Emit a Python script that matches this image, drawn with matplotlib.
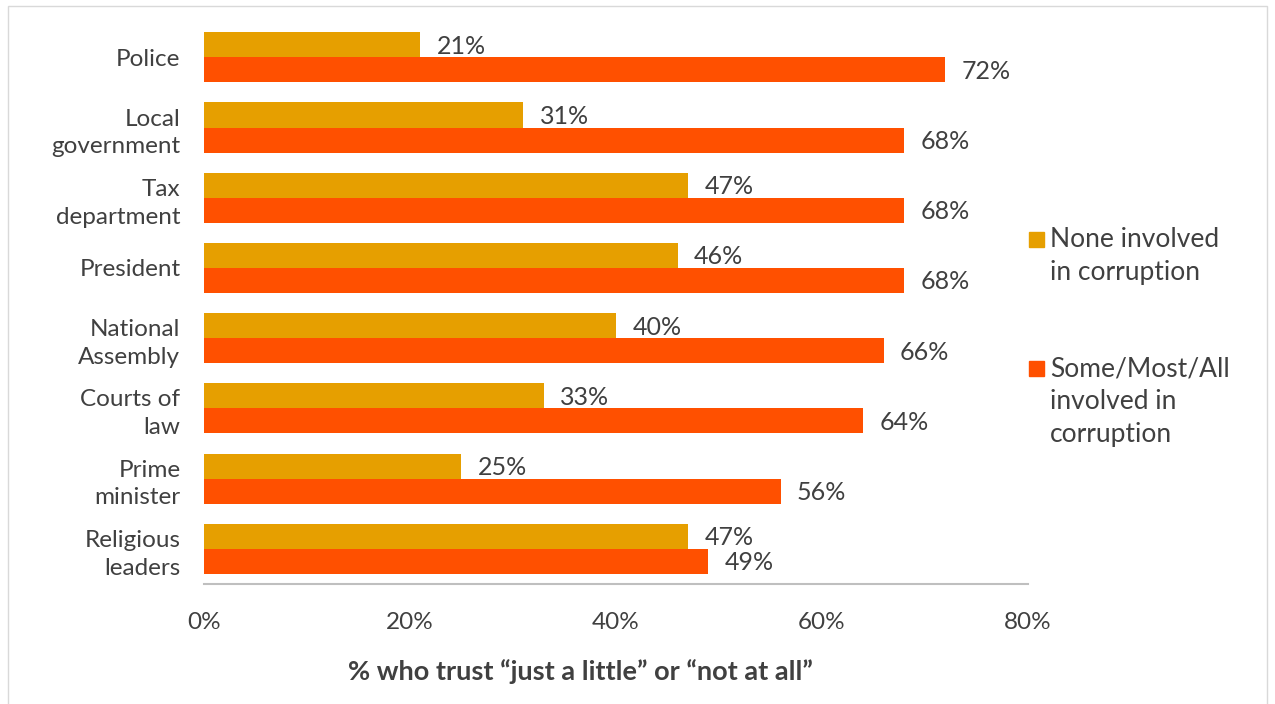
import matplotlib.pyplot as plt
from matplotlib.patches import Rectangle
import numpy as np

# Institutions, top to bottom
institutions = ["Police", "Local\ngovernment", "Tax\ndepartment", "President",
                "National\nAssembly", "Courts of\nlaw", "Prime\nminister",
                "Religious\nleaders"]
none_involved = [21, 31, 47, 46, 40, 33, 25, 47]
some_involved = [72, 68, 68, 68, 66, 64, 56, 49]
series_names = ["None involved\nin corruption", "Some/Most/All\ninvolved in\ncorruption"]
xticks = [0, 20, 40, 60, 80]

gold = "#E69F00"
red = "#FF5000"
text_col = "#404040"

plt.rcParams['font.family'] = ['Lato', 'DejaVu Sans']

fig = plt.figure(figsize=(12.75, 7.04), dpi=100)
ax = fig.add_axes([0.16, 0.1705, 0.646, 0.798])

y = np.arange(len(institutions))
h = 0.357
ax.barh(y - h / 2, none_involved, height=h, color=gold)
ax.barh(y + h / 2, some_involved, height=h, color=red)

for yi, v in zip(y, none_involved):
    ax.text(v + 1.6, yi - h / 2 + 0.02, f"{v}%", va="center", ha="left",
            fontsize=18, color=text_col)
for yi, v in zip(y, some_involved):
    ax.text(v + 1.6, yi + h / 2 + 0.02, f"{v}%", va="center", ha="left",
            fontsize=18, color=text_col)

ax.set_ylim(len(institutions) - 0.5, -0.5)
ax.set_xlim(0, 80)
ax.set_yticks(y)
ax.set_yticklabels(institutions, fontsize=17.5, color=text_col, linespacing=1.4)
ax.set_xticks(xticks)
ax.set_xticklabels([f"{t}%" for t in xticks], fontsize=17.5, color=text_col)
ax.tick_params(axis="y", length=0, pad=17)
ax.tick_params(axis="x", length=0, pad=20)

for s in ["top", "right", "left"]:
    ax.spines[s].set_visible(False)
ax.spines["bottom"].set_color("#BFBFBF")
ax.spines["bottom"].set_linewidth(1.5)

fig.text(580 / 1275, 1 - 672 / 704, "% who trust \u201cjust a little\u201d or \u201cnot at all\u201d",
         ha="center", va="center", fontsize=19.5, fontweight="bold", color=text_col)

# legend drawn by hand: square marker + wrapped label
leg_items = [(series_names[0], gold, 232), (series_names[1], red, 361)]
for label, col, ypx in leg_items:
    fig.patches.append(Rectangle((1029 / 1275, 1 - (ypx + 15) / 704), 15 / 1275, 15 / 704,
                                 transform=fig.transFigure, color=col))
    fig.text(1050 / 1275, 1 - (ypx - 5) / 704, label, ha="left", va="top",
             fontsize=19, color=text_col, linespacing=1.4)

# outer frame
fig.patches.append(Rectangle((8 / 1275, -0.05), 1259 / 1275, 1.05 - 6 / 704,
                             transform=fig.transFigure, fill=False,
                             edgecolor="#D9D9D9", linewidth=1))

fig.savefig("out.png", dpi=100)
